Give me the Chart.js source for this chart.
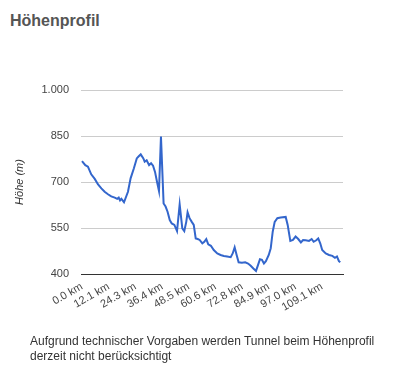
<!DOCTYPE html>
<html>
<head>
<meta charset="utf-8">
<script src="https://cdn.jsdelivr.net/npm/chart.js@4"></script>
<style>
  body { margin: 0; background: #fff; width: 409px; height: 373px; overflow: hidden; position: relative; font-family: Arial, "Liberation Sans", sans-serif; }
  #title { position: absolute; left: 10px; top: 13px; font-size: 16px; line-height: 16px; font-weight: bold; color: #555; }
  #chart { position: absolute; left: 0; top: 0; }
  #note { position: absolute; left: 30px; top: 334px; width: 370px; font-size: 12px; line-height: 15px; color: #333; }
</style>
</head>
<body>
<div id="title">Höhenprofil</div>
<canvas id="chart" width="409" height="373"></canvas>
<div id="note">Aufgrund technischer Vorgaben werden Tunnel beim Höhenprofil derzeit nicht berücksichtigt</div>
<script>
// distance along the route (km) and elevation (m)
const distKm = [0, 1.5, 2.7, 4.2, 5.8, 7.3, 8.8, 10.3, 11.8, 13.3, 14.9, 16.0, 16.7, 17.3, 17.9, 19.1,
  20.9, 22.1, 23.6, 24.9, 25.8, 26.7, 27.9, 28.5, 29.4, 30.5, 31.4, 32.3, 33.2, 34.1, 35.0, 35.9,
  37.1, 38.0, 38.9, 39.9, 40.8, 42.0, 43.2, 44.4, 45.6, 46.5, 47.4, 48.0, 48.9, 49.9, 50.8, 51.7,
  52.6, 53.5, 54.7, 55.6, 56.5, 57.4, 58.6, 59.9, 61.5, 63.0, 64.5, 66.0, 67.6, 68.5, 69.4, 70.3,
  71.2, 72.7, 74.2, 75.5, 76.7, 77.9, 79.1, 80.0, 80.9, 81.8, 82.7, 83.6, 84.9, 85.8, 86.7, 87.6,
  88.8, 90.3, 92.6, 93.5, 94.7, 95.9, 97.1, 98.3, 99.5, 100.5, 101.7, 103.2, 104.4, 105.3, 106.5,
  107.4, 108.3, 109.2, 110.8, 112.3, 113.8, 115.0, 115.9, 116.8, 117.4];
const elevM = [768, 755, 750, 725, 710, 692, 679, 668, 660, 653, 649, 645, 649, 640, 645, 634,
  668, 712, 745, 777, 784, 790, 777, 766, 771, 755, 761, 753, 733, 701, 671, 848,
  630, 620, 603, 576, 565, 560, 540, 627, 549, 540, 570, 601, 582, 570, 560, 516,
  514, 511, 500, 505, 514, 497, 492, 478, 467, 462, 459, 457, 455, 467, 487, 462,
  438, 437, 438, 434, 427, 418, 410, 429, 448, 446, 434, 442, 462, 484, 538, 570,
  582, 584, 586, 560, 508, 511, 522, 514, 503, 511, 510, 508, 514, 505, 510,
  516, 500, 478, 467, 462, 459, 453, 457, 442, 438];

const xTicks = [0, 12.1, 24.3, 36.4, 48.5, 60.6, 72.8, 84.9, 97.0, 109.1];
const xTickLabels = ['0.0 km', '12.1 km', '24.3 km', '36.4 km', '48.5 km', '60.6 km', '72.8 km', '84.9 km', '97.0 km', '109.1 km'];
const yTicks = [400, 550, 700, 850, 1000];
const yTickLabels = ['400', '550', '700', '850', '1.000'];

const font = 'Arial, "Liberation Sans", sans-serif';

new Chart(document.getElementById('chart'), {
  type: 'line',
  data: {
    datasets: [{
      label: 'Höhe',
      data: distKm.map((d, i) => ({ x: d, y: elevM[i] })),
      borderColor: '#3366cc',
      borderWidth: 2,
      pointRadius: 0,
      tension: 0,
      fill: false
    }]
  },
  options: {
    responsive: false,
    animation: false,
    devicePixelRatio: 1,
    layout: { padding: { left: 0, right: 66, top: 90, bottom: 54 } },
    plugins: { legend: { display: false }, tooltip: { enabled: false } },
    scales: {
      x: {
        type: 'linear',
        min: -0.45,
        max: 118.65,
        afterFit: s => { s.height = 45; },
        afterBuildTicks: s => { s.ticks = xTicks.map(v => ({ value: v })); },
        grid: { display: false, drawTicks: false },
        border: { display: true, color: '#333', width: 1 },
        ticks: {
          autoSkip: false,
          minRotation: 30,
          maxRotation: 30,
          padding: 6,
          color: '#444',
          font: { family: font, size: 11 },
          callback: (v, i) => xTickLabels[i]
        }
      },
      y: {
        min: 400,
        max: 1000,
        afterFit: s => { s.width = 81; },
        afterBuildTicks: s => { s.ticks = yTicks.map(v => ({ value: v })); },
        grid: {
          drawTicks: false,
          color: c => (c.tick && c.tick.value === 400) ? '#333' : '#ccc'
        },
        border: { display: false },
        ticks: {
          padding: 12,
          color: '#444',
          font: { family: font, size: 11 },
          callback: (v, i) => yTickLabels[i]
        },
        title: {
          display: true,
          text: 'Höhe (m)',
          color: '#333',
          padding: { top: 13, bottom: 0 },
          font: { family: font, size: 11, style: 'italic' }
        }
      }
    }
  }
});
</script>
</body>
</html>
